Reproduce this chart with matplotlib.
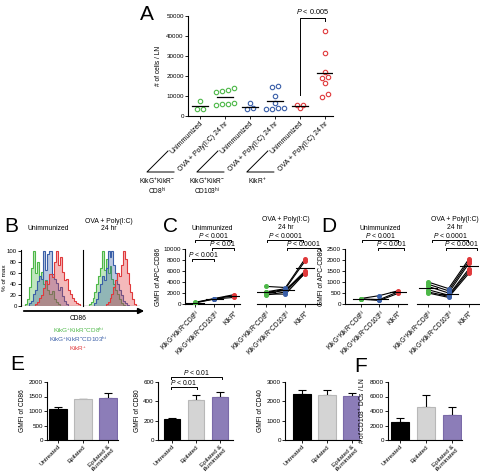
import numpy as np
import matplotlib
matplotlib.use('Agg')
import matplotlib.pyplot as plt
from matplotlib.lines import Line2D
from matplotlib.patches import FancyArrowPatch

plt.rcParams['font.family'] = ['Liberation Sans', 'DejaVu Sans']
plt.rcParams['mathtext.fontset'] = 'custom'
plt.rcParams['mathtext.rm'] = 'Liberation Sans'
plt.rcParams['mathtext.it'] = 'Liberation Sans:italic'
plt.rcParams['mathtext.sf'] = 'Liberation Sans'

GREEN = '#4db848'
BLUE = '#3a5fa8'
RED = '#e0393b'

# ---- data ----
# A: number of cells per LN
a_ticks = ['Unimmunized', 'OVA + Poly(I:C) 24 hr'] * 3
a_values = [
    [7700, 3300, 3300],
    [14200, 12800, 12400, 12000, 6500, 6200, 5800, 5400],
    [6500, 3300, 3800],
    [15200, 14600, 10000, 6700, 3900, 3500, 3700, 4100],
    [5500, 5700, 3900],
    [42300, 31500, 22000, 19500, 19000, 16500, 11000, 9500],
]
a_medians = [4800, 9400, 4400, 7600, 4900, 21500]
a_colors = [GREEN, GREEN, BLUE, BLUE, RED, RED]

# B: CD86 histograms (% of max), bins of the two overlays
b_unimm_green = [0, 0, 4, 12, 35, 70, 100, 60, 80, 55, 62, 40, 48, 30, 22, 28, 12, 8, 3, 0, 0, 0, 0, 0, 0, 0, 0, 0, 0, 0]
b_unimm_blue = [0, 0, 0, 0, 5, 10, 22, 30, 45, 55, 50, 100, 65, 95, 100, 58, 50, 42, 30, 35, 18, 10, 4, 0, 0, 0, 0, 0, 0, 0]
b_unimm_red = [0, 0, 0, 0, 0, 0, 0, 4, 8, 15, 20, 32, 45, 40, 58, 52, 80, 100, 75, 90, 62, 48, 50, 30, 22, 14, 10, 6, 3, 0]
b_ova_green = [0, 0, 0, 3, 8, 15, 25, 40, 55, 70, 100, 65, 85, 60, 72, 50, 40, 30, 22, 12, 6, 2, 0, 0, 0, 0, 0, 0, 0, 0]
b_ova_blue = [0, 0, 0, 0, 0, 0, 5, 12, 25, 40, 55, 48, 70, 100, 90, 100, 75, 60, 40, 30, 20, 10, 5, 2, 0, 0, 0, 0, 0, 0]
b_ova_red = [0, 0, 0, 0, 0, 0, 0, 0, 0, 0, 0, 0, 4, 8, 15, 22, 35, 48, 60, 55, 75, 100, 85, 60, 40, 25, 12, 4, 0, 0]

# C / D: paired GMFI per mouse (rows: CD8hi, CD103hi, KikR+)
cd_cats = [r'KikG$^{+}$KikR$^{-}$CD8$^{\mathrm{hi}}$',
           r'KikG$^{+}$KikR$^{-}$CD103$^{\mathrm{hi}}$',
           r'KikR$^{+}$']
c_unimm = [[200, 300, 250], [900, 1000, 950], [1200, 1700, 1500]]
c_ova = [[3200, 2200, 1900, 1600, 1800, 2100],
         [3000, 2800, 2500, 2200, 1800, 2600],
         [8200, 7800, 6000, 5800, 5600, 5500]]
d_unimm = [[250, 230, 220], [380, 200, 160], [600, 550, 480]]
d_ova = [[1000, 900, 800, 650, 550, 500],
         [700, 600, 500, 400, 350, 300],
         [2050, 1950, 1850, 1600, 1500, 1400]]

# E / F: bar charts
ef_labels = ['Untreated', 'Epilated', 'Epilated &\nilluminated']
e_cd86 = [1060, 1400, 1450]
e_cd86_err = [90, 20, 170]
e_cd80 = [215, 415, 440]
e_cd80_err = [8, 55, 55]
e_cd40 = [2390, 2320, 2270]
e_cd40_err = [190, 260, 150]
f_dcs = [2450, 4550, 3450]
f_dcs_err = [600, 1700, 1050]
bar_colors = ['black', '#d4d4d4', '#8c7db8']
bar_edges = ['black', '#b8b8b8', '#7a6aa8']

W, H = 480, 475
fig = plt.figure(figsize=(4.8, 4.75), dpi=100)

TICK = 4.5
LAB = 4.8
TXT = 4.9


def box(x0, y0, x1, y1):
    return fig.add_axes([x0 / W, 1 - y1 / H, (x1 - x0) / W, (y1 - y0) / H])


def put(x, y, s, **kw):
    fig.text(x / W, 1 - y / H, s, **kw)


def seg(xs, ys, lw=0.7):
    fig.add_artist(Line2D([x / W for x in xs], [1 - y / H for y in ys], color='black', lw=lw))


def bracket(x0, x1, y, text):
    seg([x0, x0, x1, x1], [y + 2, y, y, y + 2])
    put((x0 + x1) / 2, y - 0.3, text, ha='center', va='bottom', fontsize=TXT)


def prism(ax):
    for s in ['top', 'right']:
        ax.spines[s].set_visible(False)
    for s in ['left', 'bottom']:
        ax.spines[s].set_linewidth(0.8)
    ax.tick_params(direction='out', length=2, width=0.6, labelsize=TICK, pad=1)


def swarm(vals, tol, step):
    vals = np.asarray(vals, float)
    order = np.argsort(vals)
    offs = np.zeros(len(vals))
    cluster = [order[0]]
    clusters = []
    for i in order[1:]:
        if vals[i] - vals[cluster[-1]] < tol:
            cluster.append(i)
        else:
            clusters.append(cluster)
            cluster = [i]
    clusters.append(cluster)
    for c in clusters:
        k = len(c)
        for n, i in enumerate(c):
            offs[i] = (n - (k - 1) / 2) * step
    return offs


# ---- A ----
axA = box(188, 16, 333, 116)
prism(axA)
xl = (-0.48, 5.33)
for i, vals in enumerate(a_values):
    x = i + swarm(vals, 1600, 0.24)
    axA.plot(x, vals, 'o', mfc='none', mec=a_colors[i], ms=3.2, mew=0.8)
    axA.plot([i - 0.32, i + 0.32], [a_medians[i]] * 2, color='black', lw=0.9)
axA.plot([4, 4, 5, 5], [10500, 49000, 49000, 47500], color='black', lw=0.7, clip_on=False)
axA.text(4.5, 49800, r'$P$ < 0.005', ha='center', va='bottom', fontsize=5.2)
axA.set_xlim(*xl)
axA.set_ylim(0, 50000)
axA.set_yticks(range(0, 50001, 10000))
axA.set_xticks(range(6))
axA.set_xticklabels(a_ticks, rotation=45, ha='right', rotation_mode='anchor', fontsize=5)
axA.set_ylabel('# of cells / LN', fontsize=LAB, labelpad=3)
put(147, 14, 'A', fontsize=15, ha='center', va='center')

grp_names = [(r'KikG$^{+}$KikR$^{-}$', r'CD8$^{\mathrm{hi}}$'),
             (r'KikG$^{+}$KikR$^{-}$', r'CD103$^{\mathrm{hi}}$'),
             (r'KikR$^{+}$', '')]
for k in range(3):
    tick_px = 188 + (2 * k - xl[0]) * (333 - 188) / (xl[1] - xl[0])
    vx = tick_px - 53
    seg([vx + 21, vx, vx + 27], [151, 172, 172])
    put(vx + 10, 181, grp_names[k][0], ha='center', va='center', fontsize=4.8)
    if grp_names[k][1]:
        put(vx + 10, 191, grp_names[k][1], ha='center', va='center', fontsize=4.8)

# ---- B ----
edges = np.arange(0, 61, 2)
b1 = box(21, 250, 82, 306)
b2 = box(83, 250, 140, 306)
for ax, series in [(b1, [b_unimm_green, b_unimm_blue, b_unimm_red]),
                   (b2, [b_ova_green, b_ova_blue, b_ova_red])]:
    for vals, col in zip(series, [GREEN, BLUE, RED]):
        ax.stairs(vals, edges, fill=True, color=col, alpha=0.35, lw=0)
        ax.stairs(vals, edges, color=col, lw=0.8)
    prism(ax)
    ax.spines['bottom'].set_visible(False)
    ax.set_xlim(0, 60)
    ax.set_ylim(0, 102)
    ax.set_xticks([])
b1.set_yticks(range(0, 101, 20))
b1.tick_params(labelsize=4.3)
b2.set_yticks([])
put(5, 278, '% of max', rotation=90, ha='center', va='center', fontsize=4.6)
fig.add_artist(FancyArrowPatch((21 / W, 1 - 311 / H), (147 / W, 1 - 311 / H),
                               transform=fig.transFigure, arrowstyle='-|>',
                               mutation_scale=8, lw=1.3, color='black'))
put(78, 319, 'CD86', ha='center', va='center', fontsize=LAB)
put(78, 330, r'KikG$^{+}$KikR$^{-}$CD8$^{\mathrm{hi}}$', ha='center', va='center', fontsize=4.6, color=GREEN)
put(78, 339.5, r'KikG$^{+}$KikR$^{-}$CD103$^{\mathrm{hi}}$', ha='center', va='center', fontsize=4.6, color=BLUE)
put(78, 349, r'KikR$^{+}$', ha='center', va='center', fontsize=4.6, color=RED)
put(11, 226, 'B', fontsize=15, ha='center', va='center')
put(48, 228, 'Unimmunized', ha='center', va='center', fontsize=TXT)
put(109, 225, 'OVA + Poly(I:C)\n24 hr', ha='center', va='center', fontsize=TXT, linespacing=1.15)


# ---- C / D ----
def paired(ax, data, xlim, ymax, ystep, first):
    data = np.asarray(data, float)
    x = np.arange(3)
    for j in range(data.shape[1]):
        ax.plot(x, data[:, j], color='black', lw=0.8, zorder=2)
    for i, col in enumerate([GREEN, BLUE, RED]):
        ax.plot([i] * data.shape[1], data[i], 'o', color=col, ms=2.6, zorder=3)
        m = data[i].mean()
        ax.plot([i - 0.45, i + 0.45], [m, m], color='black', lw=0.8, zorder=4)
    prism(ax)
    ax.set_xlim(*xlim)
    ax.set_ylim(0, ymax)
    ax.set_xticks(range(3))
    ax.set_xticklabels(cd_cats, rotation=45, ha='right', rotation_mode='anchor', fontsize=4.7)
    if first:
        ax.set_yticks(np.arange(0, ymax + 1, ystep))
    else:
        ax.spines['left'].set_visible(False)
        ax.set_yticks([])


c1 = box(185, 249, 240, 304)
c2 = box(257, 249, 320, 304)
paired(c1, c_unimm, (-0.51, 2.31), 10000, 2000, True)
paired(c2, c_ova, (-0.46, 2.77), 10000, 2000, False)
c1.set_ylabel('GMFI of APC-CD86', fontsize=LAB, labelpad=1)
put(170, 226, 'C', fontsize=15, ha='center', va='center')
put(212, 228, 'Unimmunized', ha='center', va='center', fontsize=TXT)
put(286, 223.5, 'OVA + Poly(I:C)\n24 hr', ha='center', va='center', fontsize=TXT, linespacing=1.1)
bracket(195, 231, 240, r'$P$ < 0.001')
bracket(212, 234, 248, r'$P$ < 0.01')
bracket(192, 214, 259, r'$P$ < 0.001')
bracket(267, 303, 240, r'$P$ < 0.0001')
bracket(287, 320, 248, r'$P$ < 0.0001')

d1 = box(345, 249, 407, 304)
d2 = box(417, 249, 479, 304)
paired(d1, d_unimm, (-0.86, 2.49), 2500, 500, True)
paired(d2, d_ova, (-0.54, 2.49), 2500, 500, False)
d1.set_ylabel('GMFI of APC-CD80', fontsize=LAB, labelpad=1)
put(329, 226, 'D', fontsize=15, ha='center', va='center')
put(380, 228, 'Unimmunized', ha='center', va='center', fontsize=TXT)
put(455, 223.5, 'OVA + Poly(I:C)\n24 hr', ha='center', va='center', fontsize=TXT, linespacing=1.1)
bracket(362, 398, 240, r'$P$ < 0.001')
bracket(378, 404, 248, r'$P$ < 0.001')
bracket(432, 468, 240, r'$P$ < 0.0001')
bracket(446, 477, 248, r'$P$ < 0.0001')


# ---- E / F ----
def bars(ax, vals, errs, xlim, ymax, ystep, ylabel):
    x = np.arange(3)
    ax.bar(x, vals, width=0.7, color=bar_colors, edgecolor=bar_edges, lw=0.8, zorder=2)
    ax.errorbar(x, vals, yerr=[[0] * 3, errs], fmt='none', ecolor='black',
                elinewidth=0.8, capsize=3, capthick=0.8, zorder=1)
    prism(ax)
    ax.set_xlim(*xlim)
    ax.set_ylim(0, ymax)
    ax.set_yticks(np.arange(0, ymax + 1, ystep))
    ax.set_xticks(x)
    ax.set_xticklabels(ef_labels, rotation=45, ha='right', rotation_mode='anchor',
                       fontsize=4.5, multialignment='center', linespacing=0.95)
    ax.set_ylabel(ylabel, fontsize=LAB, labelpad=2)


e1 = box(47, 382, 118, 440)
e2 = box(158, 382, 233, 440)
e3 = box(285, 382, 360, 440)
f1 = box(388, 382, 462, 440)
bars(e1, e_cd86, e_cd86_err, (-0.44, 2.4), 2000, 500, 'GMFI of CD86')
bars(e2, e_cd80, e_cd80_err, (-0.58, 2.54), 600, 200, 'GMFI of CD80')
bars(e3, e_cd40, e_cd40_err, (-0.68, 2.32), 3000, 1000, 'GMFI of CD40')
bars(f1, f_dcs, f_dcs_err, (-0.46, 2.38), 8000, 2000, r'# of CD103$^{+}$ DCs / LN')
put(17, 364, 'E', fontsize=15, ha='center', va='center')
put(361, 366, 'F', fontsize=15, ha='center', va='center')
bracket(171, 222, 377, r'$P$ < 0.01')
bracket(171, 197, 387, r'$P$ < 0.01')

fig.savefig('out.png', dpi=100)
